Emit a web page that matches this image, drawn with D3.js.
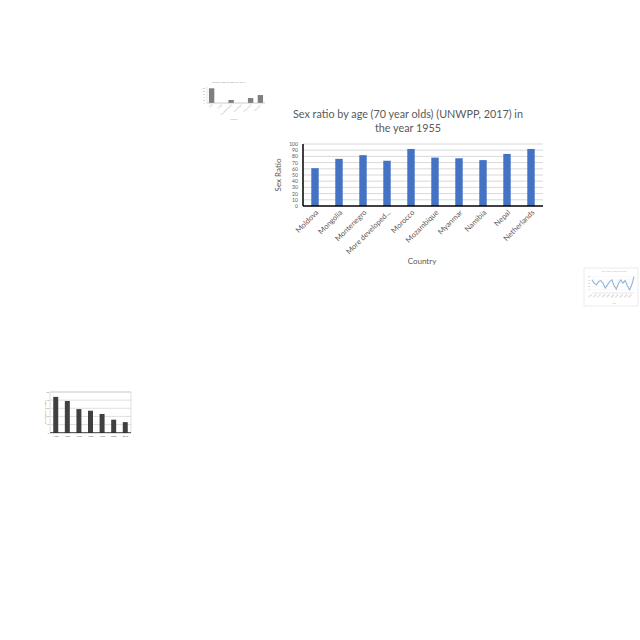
<!DOCTYPE html>
<html><head><meta charset="utf-8">
<script src="https://cdn.jsdelivr.net/npm/d3@7"></script>
<style>body{margin:0;background:#fff}svg{display:block}</style>
</head><body><svg id="c" width="640" height="640"></svg>
<script>
// Main chart data
const countries = ["Moldova","Mongolia","Montenegro","More developed...","Morocco","Mozambique","Myanmar","Namibia","Nepal","Netherlands"];
const ratios = [61, 76, 82, 73, 92, 78, 77, 74, 84, 92];
const yTicks = [0,10,20,30,40,50,60,70,80,90,100];
const titleLines = ["Sex ratio by age (70 year olds) (UNWPP, 2017) in","the year 1955"];

// Thumbnail 1 (top-left small bar chart)
const t1Cats = ["Mali","Malta","Marshall Islands","Martinique","Mauritania","Mauritius"];
const t1Vals = [98, 0, 20, 0, 33, 53];
// Thumbnail 2 (right small line chart)
const t2Vals = [70,60,55,65,68,60,45,55,65,70,52,42,60,70,60,68,52,40,55,80];
// Thumbnail 3 (left small bar chart)
const t3Cats = ["1950","1960","1970","1980","1990","2000","2010"];
const t3Vals = [44, 39, 29, 27, 23, 16, 13];

const svg = d3.select("#c");
const FONT = "Lato, 'Open Sans', sans-serif";

// ---------- Main chart ----------
const m = {l:303, r:543, t:144, b:206};
const x = d3.scaleBand().domain(countries).range([m.l, m.r]).paddingInner(0.69).paddingOuter(0.345);
const y = d3.scaleLinear().domain([0,100]).range([m.b, m.t]);
const g = svg.append("g");
g.selectAll("line.grid").data(yTicks.slice(1)).join("line")
  .attr("x1", m.l).attr("x2", m.r).attr("y1", d=>y(d)).attr("y2", d=>y(d))
  .attr("stroke","#d9d9d9").attr("stroke-width",1);
g.selectAll("rect.bar").data(countries).join("rect")
  .attr("x", d=>x(d)).attr("width", x.bandwidth())
  .attr("y", (d,i)=>y(ratios[i])).attr("height",(d,i)=>y(0)-y(ratios[i]))
  .attr("fill","#4472c4");
g.append("line").attr("x1",m.l).attr("x2",m.l).attr("y1",m.t).attr("y2",m.b).attr("stroke","#000").attr("stroke-width",1.5);
g.append("line").attr("x1",m.l).attr("x2",m.r).attr("y1",m.b).attr("y2",m.b).attr("stroke","#000").attr("stroke-width",1.5);
g.selectAll("text.yt").data(yTicks).join("text")
  .attr("x", m.l-5).attr("y", d=>y(d)+1.9).attr("text-anchor","end")
  .attr("font-family",FONT).attr("font-size",5.1).attr("fill","#595959").text(d=>d);
g.selectAll("text.xt").data(countries).join("text")
  .attr("transform", d=>`translate(${x(d)+x.bandwidth()/2+4},${m.b+7}) rotate(-45)`)
  .attr("text-anchor","end").attr("font-family",FONT).attr("font-size",7.5).attr("fill","#595959").text(d=>d);
g.selectAll("text.title").data(titleLines).join("text")
  .attr("x",408).attr("y",(d,i)=>118+i*14).attr("text-anchor","middle")
  .attr("font-family",FONT).attr("font-size",10.8).attr("fill","#595959").text(d=>d);
g.append("text").attr("transform",`translate(281,175) rotate(-90)`).attr("text-anchor","middle")
  .attr("font-family",FONT).attr("font-size",8).attr("fill","#595959").text("Sex Ratio");
g.append("text").attr("x",422).attr("y",264).attr("text-anchor","middle")
  .attr("font-family",FONT).attr("font-size",8).attr("fill","#595959").text("Country");

// ---------- Thumbnail 1 ----------
{
  const tg = svg.append("g");
  const xs = d3.scaleBand().domain(t1Cats).range([207,265]).paddingInner(0.45).paddingOuter(0.2);
  const ys = d3.scaleLinear().domain([0,100]).range([103,88]);
  tg.append("text").attr("x",229).attr("y",83).attr("text-anchor","middle").attr("font-family",FONT)
    .attr("font-size",2.6).attr("fill","#999").text("gender ratio at age 5 in 2017");
  tg.selectAll("rect").data(t1Cats).join("rect").attr("x",d=>xs(d)).attr("width",xs.bandwidth())
    .attr("y",(d,i)=>ys(t1Vals[i])).attr("height",(d,i)=>ys(0)-ys(t1Vals[i])).attr("fill","#7f7f7f");
  tg.append("line").attr("x1",207).attr("x2",265).attr("y1",103).attr("y2",103).attr("stroke","#aaa").attr("stroke-width",0.6);
  tg.append("line").attr("x1",207).attr("x2",207).attr("y1",87).attr("y2",103).attr("stroke","#ccc").attr("stroke-width",0.5);
  tg.selectAll("text.yt").data([0,20,40,60,80,100]).join("text").attr("x",205).attr("y",d=>ys(d)+0.8)
    .attr("text-anchor","end").attr("font-family",FONT).attr("font-size",2).attr("fill","#aaa").text(d=>d);
  tg.selectAll("text.xt").data(t1Cats).join("text")
    .attr("transform",d=>`translate(${xs(d)+xs.bandwidth()/2+1},105) rotate(-45)`).attr("text-anchor","end")
    .attr("font-family",FONT).attr("font-size",2.2).attr("fill","#aaa").text(d=>d);
  tg.append("text").attr("x",234).attr("y",120).attr("text-anchor","middle").attr("font-family",FONT)
    .attr("font-size",2.2).attr("fill","#aaa").text("Country");
}

// ---------- Thumbnail 2 ----------
{
  const tg = svg.append("g");
  tg.append("rect").attr("x",584).attr("y",268).attr("width",54).attr("height",38).attr("fill","#fff")
    .attr("stroke","#e6e6e6").attr("stroke-width",0.8);
  tg.append("text").attr("x",614).attr("y",272).attr("text-anchor","middle").attr("font-family",FONT)
    .attr("font-size",2.2).attr("fill","#bbb").text("Sex ratio by age over time");
  const xs = d3.scalePoint().domain(d3.range(t2Vals.length)).range([592,634]);
  const ys = d3.scaleLinear().domain([30,85]).range([293,275]);
  tg.selectAll("line.grid").data([40,50,60,70,80]).join("line").attr("x1",592).attr("x2",634)
    .attr("y1",d=>ys(d)).attr("y2",d=>ys(d)).attr("stroke","#f0f0f0").attr("stroke-width",0.5);
  tg.append("line").attr("x1",592).attr("x2",634).attr("y1",293).attr("y2",293).attr("stroke","#ccc").attr("stroke-width",0.5);
  tg.append("path").datum(t2Vals).attr("d",d3.line().x((d,i)=>xs(i)).y(d=>ys(d)))
    .attr("fill","none").attr("stroke","#8fb4dc").attr("stroke-width",1.1);
  tg.selectAll("text.yt").data([40,50,60,70,80]).join("text").attr("x",590).attr("y",d=>ys(d)+0.7)
    .attr("text-anchor","end").attr("font-family",FONT).attr("font-size",1.8).attr("fill","#aaa").text(d=>d);
  tg.selectAll("text.xt").data(d3.range(0,t2Vals.length,2)).join("text")
    .attr("transform",d=>`translate(${xs(d)},295) rotate(-45)`).attr("text-anchor","end")
    .attr("font-family",FONT).attr("font-size",1.8).attr("fill","#999").text(d=>1950+d*5);
  tg.append("text").attr("x",614).attr("y",304).attr("text-anchor","middle").attr("font-family",FONT)
    .attr("font-size",2).attr("fill","#aaa").text("Year");
}

// ---------- Thumbnail 3 ----------
{
  const tg = svg.append("g");
  const xs = d3.scaleBand().domain(t3Cats).range([50,131]).paddingInner(0.57).paddingOuter(0.28);
  const ys = d3.scaleLinear().domain([0,50]).range([432.7,392]);
  tg.selectAll("line.grid").data([10,20,30,40,50]).join("line").attr("x1",50).attr("x2",131)
    .attr("y1",d=>ys(d)).attr("y2",d=>ys(d)).attr("stroke","#bfbfbf").attr("stroke-width",0.5);
  tg.append("rect").attr("x",50).attr("y",392).attr("width",81).attr("height",40.7).attr("fill","none")
    .attr("stroke","#bfbfbf").attr("stroke-width",0.5);
  tg.selectAll("rect.bar").data(t3Cats).join("rect").attr("x",d=>xs(d)).attr("width",xs.bandwidth())
    .attr("y",(d,i)=>ys(t3Vals[i])).attr("height",(d,i)=>ys(0)-ys(t3Vals[i])).attr("fill","#404040");
  tg.append("line").attr("x1",50).attr("x2",131).attr("y1",432.7).attr("y2",432.7).attr("stroke","#000").attr("stroke-width",0.7);
  tg.selectAll("text.yt").data([0,10,20,30,40,50]).join("text").attr("x",49).attr("y",d=>ys(d)+0.8)
    .attr("text-anchor","end").attr("font-family",FONT).attr("font-size",2.2).attr("fill","#777").text(d=>d);
  tg.selectAll("text.xt").data(t3Cats).join("text").attr("x",d=>xs(d)+xs.bandwidth()/2).attr("y",436.5)
    .attr("text-anchor","middle").attr("font-family",FONT).attr("font-size",2.4).attr("fill","#555").text(d=>d);
  tg.append("text").attr("transform","translate(46,412) rotate(-90)").attr("text-anchor","middle")
    .attr("font-family",FONT).attr("font-size",2.2).attr("fill","#777").text("Percentage of population");
}
</script></body></html>
